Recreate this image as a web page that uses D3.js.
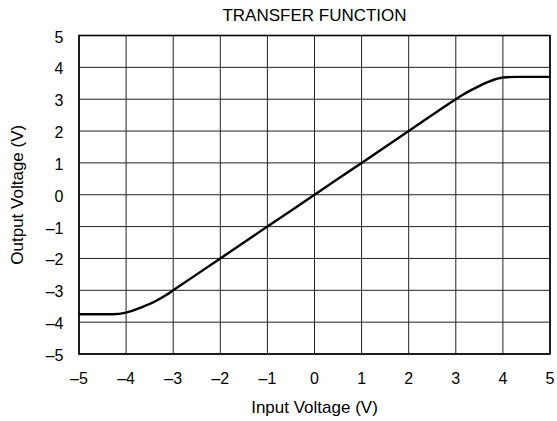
<!DOCTYPE html>
<html>
<head>
<meta charset="utf-8">
<script src="https://cdn.jsdelivr.net/npm/d3@7"></script>
<style>
body{margin:0;background:#fff;}
text{font-family:"Liberation Sans",Arial,sans-serif;fill:#000;}
</style>
</head>
<body>
<svg id="chart" width="557" height="421"></svg>
<script>
// donnees
var xTicks = [-5,-4,-3,-2,-1,0,1,2,3,4,5];
var yTicks = [-5,-4,-3,-2,-1,0,1,2,3,4,5];
var vin  = [-5,-4.6,-4.3,-4,-3.7,-3.4,-3.15,-3,-2,-1,0,1,2,3,3.15,3.4,3.7,4,4.3,4.6,5];
var vout = [-3.75,-3.75,-3.75,-3.7,-3.55,-3.36,-3.15,-3,-2,-1,0,1,2,3,3.14,3.34,3.55,3.68,3.7,3.7,3.7];

var svg = d3.select("#chart");
var x0 = 79, x1 = 550, y0 = 354, y1 = 35.5;

var x = d3.scaleLinear().domain([-5,5]).range([x0,x1]);
var y = d3.scaleLinear().domain([-5,5]).range([y0,y1]);
var lab = function(d){ return d<0 ? "\u2013"+Math.abs(d) : ""+d; };

// grille
svg.append("g").selectAll("line").data(xTicks).enter().append("line")
    .attr("x1",function(d){return x(d);}).attr("x2",function(d){return x(d);})
    .attr("y1",y0).attr("y2",y1)
    .style("stroke","#222").style("stroke-width",1);
svg.append("g").selectAll("line").data(yTicks).enter().append("line")
    .attr("y1",function(d){return y(d);}).attr("y2",function(d){return y(d);})
    .attr("x1",x0).attr("x2",x1)
    .style("stroke","#222").style("stroke-width",1);

// cadre
svg.append("rect").attr("x",x0).attr("y",y1).attr("width",x1-x0).attr("height",y0-y1)
    .style("fill","none").style("stroke","#000").style("stroke-width",1.6);

// etiquettes
svg.append("g").selectAll("text").data(xTicks).enter().append("text")
    .attr("x",function(d){return x(d);}).attr("y",384)
    .attr("text-anchor","middle").style("font-size","16px").text(lab);
svg.append("g").selectAll("text").data(yTicks).enter().append("text")
    .attr("x",63.5).attr("y",function(d){return y(d)+7;})
    .attr("text-anchor","end").style("font-size","16px").text(lab);

// courbe
var pts = vin.map(function(v,i){return [v,vout[i]];});
svg.append("path").datum(pts)
    .attr("d",d3.line().x(function(d){return x(d[0]);}).y(function(d){return y(d[1]);}).curve(d3.curveMonotoneX))
    .style("fill","none").style("stroke","#000").style("stroke-width",2.4);

// titres
svg.append("text").attr("x",(x0+x1)/2).attr("y",21).attr("text-anchor","middle")
    .style("font-size","17px").text("TRANSFER FUNCTION");
svg.append("text").attr("x",(x0+x1)/2).attr("y",413).attr("text-anchor","middle")
    .style("font-size","17px").text("Input Voltage (V)");
svg.append("text").attr("transform","translate(23,"+((y0+y1)/2)+") rotate(-90)")
    .attr("text-anchor","middle").style("font-size","17px").text("Output Voltage (V)");
</script>
</body>
</html>
